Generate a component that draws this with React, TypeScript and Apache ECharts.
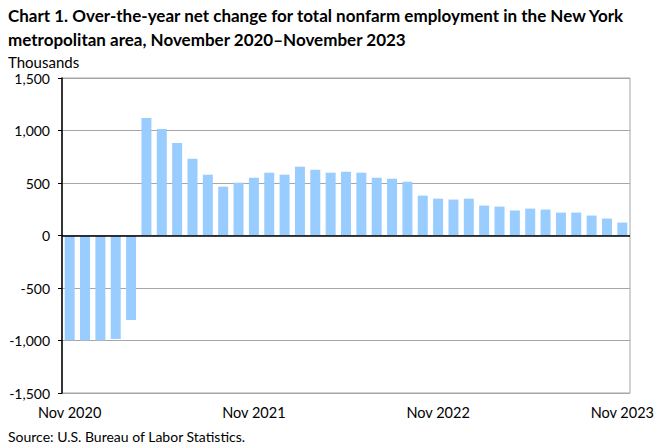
import React, { useEffect, useRef } from "react";
import * as echarts from "echarts";

const months = ["Jan", "Feb", "Mar", "Apr", "May", "Jun", "Jul", "Aug", "Sep", "Oct", "Nov", "Dec"];
const categories: string[] = [];
for (let i = 0; i < 37; i++) {
  const m = (10 + i) % 12;
  const y = 2020 + Math.floor((10 + i) / 12);
  categories.push(`${months[m]} ${y}`);
}

const netChange = [
  -998, -1000, -1000, -986, -804,
  1120, 1015, 882, 731, 579, 465, 503, 550, 598, 579, 655, 626, 598, 607,
  598, 550, 541, 512, 380, 351, 342, 351, 285, 275, 237, 256, 247, 218, 218, 190, 161, 123,
];

const yTicks = [-1500, -1000, -500, 0, 500, 1000, 1500];

const fontFamily = "Lato, 'Open Sans', sans-serif";

export default function App() {
  const ref = useRef<HTMLDivElement>(null);
  useEffect(() => {
    document.body.style.margin = "0";
    if (!ref.current) return;
    const chart = echarts.init(ref.current, undefined, { renderer: "svg" });
    chart.setOption({
      animation: false,
      backgroundColor: "#ffffff",
      textStyle: { fontFamily },
      graphic: [
        {
          type: "text",
          left: 8,
          top: 3,
          style: {
            text: "Chart 1. Over-the-year net change for total nonfarm employment in the New York\nmetropolitan area, November 2020\u2013November 2023",
            font: `bold 17px ${fontFamily}`,
            lineHeight: 24,
            fill: "#000",
          },
        },
        {
          type: "text",
          left: 8,
          top: 54,
          style: { text: "Thousands", font: `15px ${fontFamily}`, fill: "#000" },
        },
        {
          type: "text",
          left: 8,
          top: 429,
          style: { text: "Source: U.S. Bureau of Labor Statistics.", font: `14px ${fontFamily}`, fill: "#000" },
        },
      ],
      grid: {
        left: 62,
        right: 32,
        top: 78,
        bottom: 55,
        show: true,
        borderColor: "#a6a6a6",
        borderWidth: 1,
      },
      xAxis: {
        type: "category",
        data: categories,
        position: "bottom",
        axisLine: { show: false, onZero: false },
        axisTick: { show: false },
        axisLabel: {
          interval: 11,
          color: "#000",
          fontSize: 14.5,
          margin: 12,
          fontFamily,
          formatter: (v: string) => v.replace(/^[A-Za-z]+/, "Nov"),
        },
        splitLine: { show: false },
      },
      yAxis: {
        type: "value",
        min: yTicks[0],
        max: yTicks[yTicks.length - 1],
        interval: 500,
        axisLine: { show: true, lineStyle: { color: "#000", width: 1.5 } },
        axisTick: { show: true, length: 4, lineStyle: { color: "#000" } },
        axisLabel: {
          color: "#000",
          fontSize: 14,
          margin: 12,
          fontFamily,
          formatter: (v: number) => v.toLocaleString("en-US"),
        },
        splitLine: { show: true, lineStyle: { color: "#a6a6a6", width: 1 } },
      },
      series: [
        {
          type: "bar",
          data: netChange,
          barCategoryGap: "35%",
          itemStyle: { color: "#99ccff" },
          markLine: {
            silent: true,
            symbol: "none",
            label: { show: false },
            lineStyle: { color: "#000", type: "solid", width: 1.5 },
            data: [{ yAxis: 0 }],
          },
        },
      ],
    });
    return () => chart.dispose();
  }, []);
  return <div ref={ref} style={{ width: 662, height: 448 }} />;
}
